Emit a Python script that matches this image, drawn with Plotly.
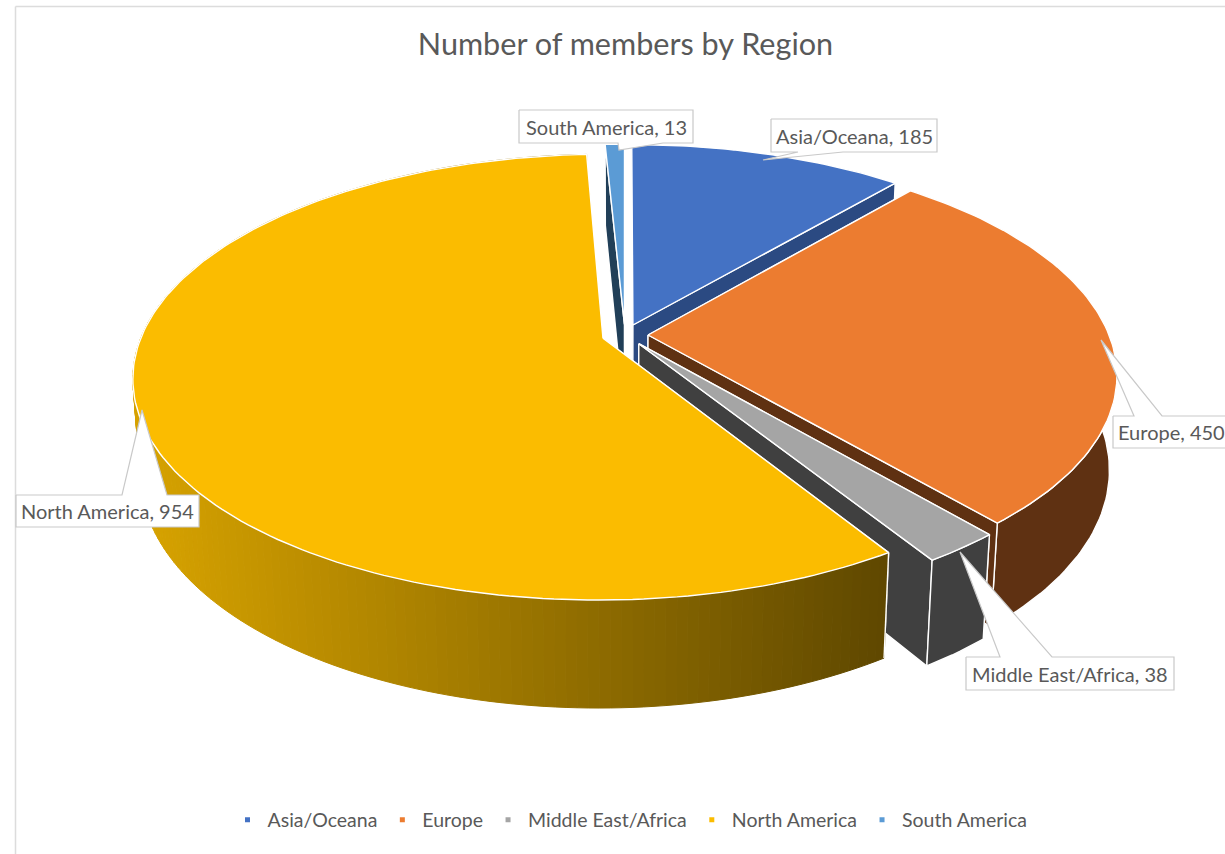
import math
import plotly.graph_objects as go

# ---- data ----
CATEGORIES = ["Asia/Oceana", "Europe", "Middle East/Africa", "North America", "South America"]
VALUES = [185, 450, 38, 954, 13]
TITLE = "Number of members by Region"

TOP_COLORS = ["#4472C4", "#EC7C30", "#A5A5A5", "#FBBC00", "#5B9BD5"]
SIDE_COLORS = ["#2B4A82", "#5F3112", "#404040", "#8A6A00", "#213F58"]
GRAD_LEFT = (214, 162, 0)
GRAD_RIGHT = (94, 71, 0)
TEXT = "#595959"
BORDER = "#C9C9C9"
FONT = "Lato"

# pie projection (page-pixel frame)
CX, CY = 625.0, 335.0
A, B = 461.0, 215.0
K, M, H = 0.174, 0.015, 94.5
EXPLODE = 0.05
DRAW_ORDER = [4, 0, 1, 2, 3]

# callouts: box (x0, y0, x1, y1), pointer base x0, x1, pointer tip
CALLOUTS = {
    "Asia/Oceana": ((771, 119, 937, 152), (798, 843), (763, 160)),
    "Europe": ((1113, 416, 1230, 448), (1134, 1162), (1101, 340)),
    "Middle East/Africa": ((966, 657, 1174, 690), (1000, 1052), (960, 552)),
    "North America": ((16, 495, 199, 527), (122, 167), (142, 410)),
    "South America": ((519, 110, 693, 143), (618, 663), (619, 150)),
}


def project(theta, r, ox, oy, z):
    X = ox + r * math.sin(theta)
    Y = oy + r * math.cos(theta)
    s = 1.0 / (1.0 + K * Y + M * z)
    return CX + A * X * s, CY + s * (-B * Y + H * z)


def poly(fig, pts, fill, line="#FFFFFF", width=1.4):
    xs = [p[0] for p in pts] + [pts[0][0]]
    ys = [p[1] for p in pts] + [pts[0][1]]
    fig.add_trace(go.Scatter(x=xs, y=ys, mode="lines", fill="toself", fillcolor=fill,
                             line=dict(color=line, width=width), showlegend=False,
                             hoverinfo="skip"))


fig = go.Figure()
total = sum(VALUES)
spans = []
acc = 0.0
for v in VALUES:
    spans.append((acc / total * 2 * math.pi, (acc + v) / total * 2 * math.pi))
    acc += v

for i in DRAW_ORDER:
    a0, a1 = spans[i]
    mid = (a0 + a1) / 2
    ox, oy = EXPLODE * math.sin(mid), EXPLODE * math.cos(mid)
    n = max(4, int((a1 - a0) / 0.02))
    angles = [a0 + (a1 - a0) * j / n for j in range(n + 1)]
    side = SIDE_COLORS[i]
    at_back = math.cos(mid) > 0
    face_order = (a1, a0) if mid > math.pi else (a0, a1)

    def faces():
        for a in face_order:
            poly(fig, [project(0, 0, ox, oy, 0), project(a, 1, ox, oy, 0),
                       project(a, 1, ox, oy, 1), project(0, 0, ox, oy, 1)], side)

    def rim():
        if CATEGORIES[i] == "North America":
            xlo, xhi = 150.0, 885.0
            for j in range(n):
                q = [project(angles[j], 1, ox, oy, 0), project(angles[j + 1], 1, ox, oy, 0),
                     project(angles[j + 1], 1, ox, oy, 1), project(angles[j], 1, ox, oy, 1)]
                t = min(1, max(0, (q[2][0] - xlo) / (xhi - xlo)))
                c = "rgb(%d,%d,%d)" % tuple(round(GRAD_LEFT[k] + (GRAD_RIGHT[k] - GRAD_LEFT[k]) * t)
                                            for k in range(3))
                poly(fig, q, c, line=c, width=1)
            p0, p1 = project(angles[0], 1, ox, oy, 0), project(angles[0], 1, ox, oy, 1)
            fig.add_trace(go.Scatter(x=[p0[0], p1[0]], y=[p0[1], p1[1]], mode="lines",
                                     line=dict(color="#FFFFFF", width=1.4), showlegend=False,
                                     hoverinfo="skip"))
        else:
            poly(fig, [project(a, 1, ox, oy, 0) for a in angles] +
                 [project(a, 1, ox, oy, 1) for a in reversed(angles)], side)

    if at_back:
        rim()
        faces()
    else:
        faces()
        rim()

    # top
    poly(fig, [project(0, 0, ox, oy, 0)] + [project(a, 1, ox, oy, 0) for a in angles],
         TOP_COLORS[i])

annotations = []
for cat, val in zip(CATEGORIES, VALUES):
    (x0, y0, x1, y1), (b0, b1), tip = CALLOUTS[cat]
    if tip[1] < y0:      # pointer above the box
        pts = [(x0, y0), (b0, y0), tip, (b1, y0), (x1, y0), (x1, y1), (x0, y1)]
    else:                # pointer below the box
        pts = [(x0, y0), (x1, y0), (x1, y1), (b1, y1), tip, (b0, y1), (x0, y1)]
    poly(fig, pts, "#FFFFFF", line=BORDER, width=1.2)
    annotations.append(dict(x=(x0 + x1) / 2, y=(y0 + y1) / 2, xref="x", yref="y", xanchor="center",
                            yanchor="middle", showarrow=False, text=f"{cat}, {val}",
                            font=dict(family=FONT, size=20, color=TEXT)))

# legend
for cat, col in zip(CATEGORIES, TOP_COLORS):
    fig.add_trace(go.Scatter(x=[None], y=[None], mode="markers", name=cat,
                             marker=dict(symbol="square", size=5, color=col)))

fig.update_layout(
    width=1225, height=854, margin=dict(l=0, r=0, t=0, b=0),
    paper_bgcolor="#FFFFFF", plot_bgcolor="#FFFFFF",
    title=dict(text=TITLE, x=625.5 / 1225, xanchor="center", y=1 - 44 / 854, yanchor="middle",
               font=dict(family=FONT, size=30.6, color=TEXT)),
    xaxis=dict(range=[0, 1225], visible=False, fixedrange=True),
    yaxis=dict(range=[854, 0], visible=False, fixedrange=True),
    showlegend=True,
    legend=dict(orientation="h", x=630 / 1225, xanchor="center", y=1 - 820 / 854, yanchor="middle",
                font=dict(family=FONT, size=19.5, color=TEXT), itemsizing="trace",
                bgcolor="rgba(0,0,0,0)", itemwidth=30),
    annotations=annotations,
    shapes=[dict(type="line", xref="x", yref="y", x0=15.5, x1=15.5, y0=6.5, y1=854,
                 line=dict(color="#DCDCDC", width=1.5), layer="below"),
            dict(type="line", xref="x", yref="y", x0=15.5, x1=1225, y0=6.5, y1=6.5,
                 line=dict(color="#DCDCDC", width=1.5), layer="below")],
)

fig.write_html("out.html", config={"displayModeBar": False},
               post_script="document.body.style.margin='0';")
